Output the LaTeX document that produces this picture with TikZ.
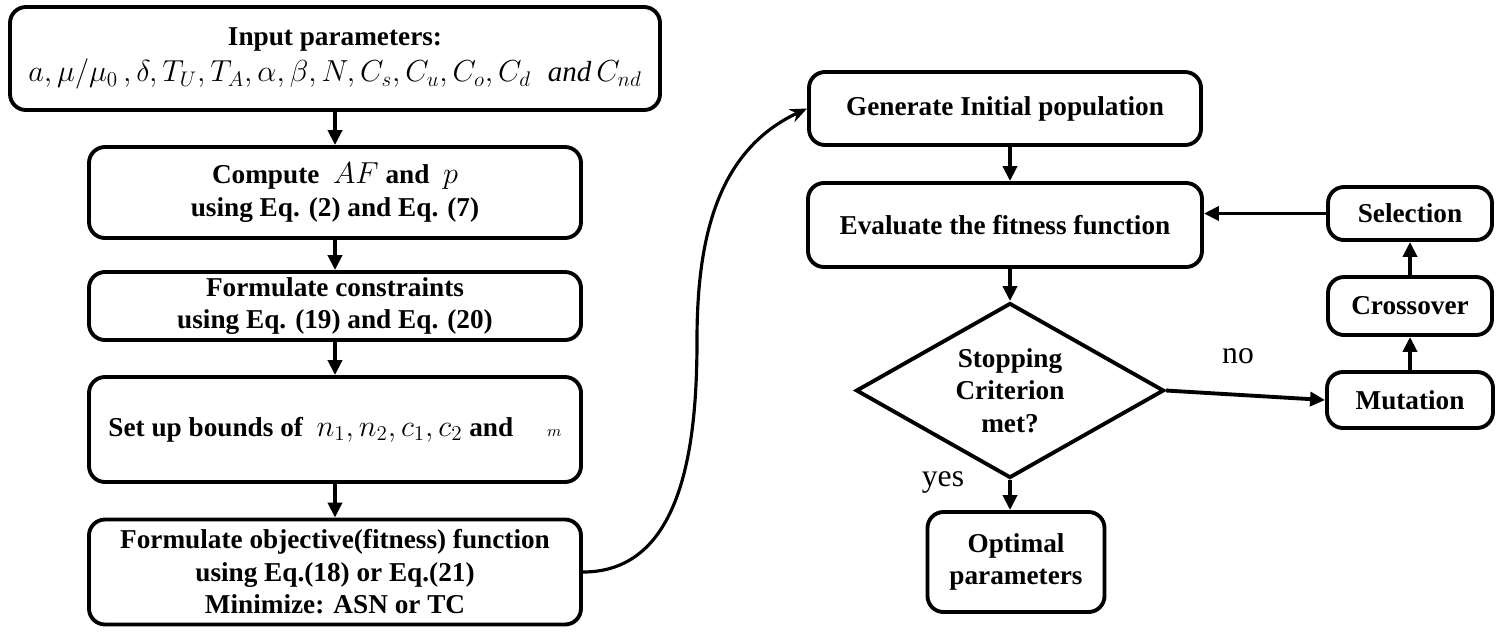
\documentclass[tikz,border=0pt]{standalone}
\usepackage{fontspec}
\setmainfont{Liberation Serif}
\usetikzlibrary{shapes.geometric}
\usetikzlibrary{arrows.meta}

\begin{document}
\begin{tikzpicture}[x=0.2mm,y=-0.2mm,
    box/.style={draw,line width=2.2pt,rounded corners=3.2mm,align=center,inner sep=0pt,
      font=\fontsize{15.5}{18.5}\selectfont\bfseries},
    decision/.style={draw,diamond,aspect=1.76,line width=2.2pt,align=center,inner sep=0pt,
      minimum width=61.6mm,minimum height=35mm,font=\fontsize{15.5}{18.5}\selectfont\bfseries},
    flow/.style={line width=2.2pt,-{Triangle[length=3mm,width=2.8mm]}},
    answer/.style={font=\fontsize{18}{20}\selectfont}]
                 \useasboundingbox (0,0) rectangle (1500,641);
                 % left column
                 \node[box,minimum width=130mm,minimum height=20.6mm] (inp) at (335,58.5)
                   {Input parameters:\\[2pt]{\fontsize{16.5}{20}\selectfont\mdseries
                   $a,\mu/\mu_0\,,\delta,T_U,T_A,\alpha,\beta,N,C_s,C_u,C_o,C_d\;\;\mathit{and}\,C_{nd}$}};
                 \node[box,minimum width=98.4mm,minimum height=18.2mm] (comp) at (335,192.5)
                   {Compute \ {\fontsize{19}{20}\selectfont\mdseries$AF$} and \ {\fontsize{19}{20}\selectfont\mdseries$p$}\\ using Eq. (2) and Eq. (7)};
                 \node[box,minimum width=98.4mm,minimum height=13.6mm] (cons) at (335,306)
                   {Formulate constraints\\ using Eq. (19) and Eq. (20)};
                 \node[box,minimum width=98.4mm,minimum height=21mm] (bnds) at (335,429.5)
                   {Set up bounds of \ {\fontsize{17}{18}\selectfont\mdseries$n_1,n_2,c_1,c_2$} and \quad{\fontsize{9}{9}\selectfont\mdseries$m$}};
                 \node[box,minimum width=98.4mm,minimum height=21mm] (obj) at (335,572)
                   {Formulate objective(fitness) function\\ using Eq.(18) or Eq.(21)\\ Minimize: ASN or TC};
                 % right column
                 \node[box,minimum width=78.4mm,minimum height=14.6mm] (gen) at (1005,108.5)
                   {Generate Initial population};
                 \node[box,minimum width=78.8mm,minimum height=16.8mm] (eval) at (1005,225)
                   {Evaluate the fitness function};
                 \node[decision] (stop) at (1010,390.5) {Stopping\\ Criterion\\ met?};
                 \node[box,minimum width=35.4mm,minimum height=20mm] (opt) at (1016,562)
                   {Optimal\\ parameters};
                 \node[box,minimum width=32.8mm,minimum height=10.6mm] (sel) at (1410,213.5) {Selection};
                 \node[box,minimum width=32.8mm,minimum height=11.6mm] (cross) at (1410,306) {Crossover};
                 \node[box,minimum width=33.2mm,minimum height=11.2mm] (mut) at (1410,400) {Mutation};
                 \node[answer] (no) at (1238,356) {no};
                 \node[answer] (yes) at (943,482) {yes};
                 % arrows
                 \draw[flow] (inp) -- (comp);
                 \draw[flow] (comp) -- (cons);
                 \draw[flow] (cons) -- (bnds);
                 \draw[flow] (bnds) -- (obj);
                 \coordinate (bend) at (697,340);
                 \draw[line width=1.8pt,-{Stealth[length=3.4mm,width=2.8mm]}]
                   (obj.east) to[out=0,in=-90] (bend) to[out=90,in=205] (gen.west);
                 \draw[flow] (gen.south -| stop.north) -- (eval.north -| stop.north);
                 \draw[flow] (eval.south -| stop.north) -- (stop.north);
                 \draw[flow] (stop.south) -- (stop.south |- opt.north);
                 \draw[flow] (stop.east) -- (mut.west);
                 \draw[flow] (mut) -- (cross);
                 \draw[flow] (cross) -- (sel);
                 \draw[flow] (sel.west) -- (sel.west -| eval.east);
            \end{tikzpicture}
\end{document}
